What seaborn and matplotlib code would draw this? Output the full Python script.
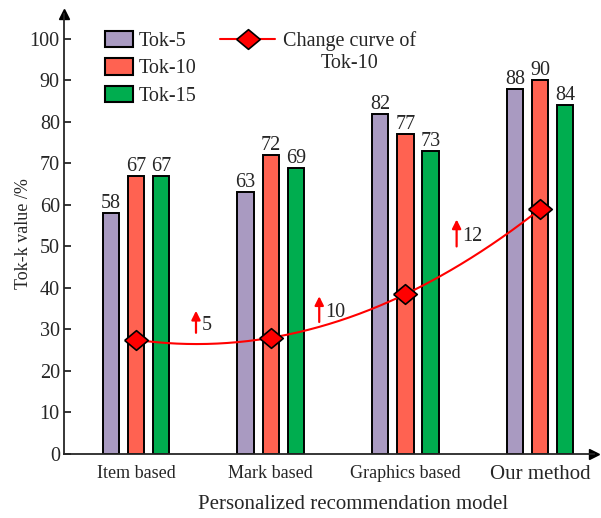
import matplotlib
matplotlib.use("Agg")
import matplotlib.pyplot as plt
import numpy as np
import pandas as pd
import seaborn as sns
from matplotlib.lines import Line2D
from matplotlib.patches import Patch
from matplotlib.text import Annotation

# values
models = ["Item based", "Mark based", "Graphics based", "Our method"]
series = ["Tok-5", "Tok-10", "Tok-15"]
tok5 = [58, 63, 82, 88]
tok10 = [67, 72, 77, 90]
tok15 = [67, 69, 73, 84]
change_curve = [27.5, 28.0, 38.5, 59.0]
gains = ["5", "10", "12"]
colors = ["#A99AC1", "#FF6251", "#00AD4F"]

frame = pd.DataFrame({
    "model": models * 3,
    "series": np.repeat(series, len(models)),
    "value": tok5 + tok10 + tok15,
})

sns.set_style("ticks")
plt.rcParams["font.family"] = ["Liberation Serif", "DejaVu Serif"]

fig = plt.figure(figsize=(6.01, 5.18), dpi=100)
ax = fig.add_axes([64 / 601, 64 / 518, 530 / 601, 440 / 518])

sns.barplot(data=frame, x="model", y="value", hue="series", hue_order=series,
            palette=colors, saturation=1, width=0.56, gap=0.35,
            edgecolor="black", linewidth=1.4, legend=False, ax=ax)

for container in ax.containers:
    ax.bar_label(container, fontsize=14.5, padding=0)

# smooth change curve through the Tok-10 points
xs = np.arange(len(models))
coef = np.polyfit(xs, change_curve, len(models) - 1)
xx = np.linspace(xs[0], xs[-1], 200)
ax.plot(xx, np.polyval(coef, xx), color="red", lw=1.5, zorder=4)
diamond = [(-1.2, 0), (0, 1), (1.2, 0), (0, -1), (-1.2, 0)]
ax.plot(xs, change_curve, linestyle="none", marker=diamond, ms=17,
        mfc="red", mec="black", mew=1.2, zorder=5)

# gain arrows between groups
arrow_spots = [(0.445, 29.2, 34.5), (1.36, 31.8, 38.0), (2.38, 50.0, 56.5)]
for (x, y0, y1), gain in zip(arrow_spots, gains):
    ax.annotate("", xy=(x, y1), xytext=(x, y0),
                arrowprops=dict(arrowstyle="-|>", color="red", lw=1.6,
                                mutation_scale=13, shrinkA=0, shrinkB=0))
    ax.text(x + 0.045, (y0 + y1) / 2 - 0.8, gain, fontsize=14.5, va="center", ha="left")

ax.set_xlim(-0.535, 3.40)
ax.set_ylim(0, 106)
ax.set_yticks(range(0, 101, 10))
sns.despine(ax=ax)
for side in ("left", "bottom"):
    ax.spines[side].set_linewidth(1.3)
ax.plot(1, 0, ">k", ms=7, transform=ax.transAxes, clip_on=False)
ax.plot(0, 1, "^k", ms=7, transform=ax.transAxes, clip_on=False)

ax.tick_params(axis="y", direction="in", length=5, width=1.3, labelsize=14.5, pad=3)
ax.tick_params(axis="x", length=0, labelsize=13, pad=8)
ax.get_xticklabels()[-1].set_fontsize(15)

ax.set_xlabel("Personalized recommendation model", fontsize=15)
ax.xaxis.set_label_coords((353 - 64) / 530, -0.093)
ax.set_ylabel("Tok-k value /%", fontsize=13)
ax.yaxis.set_label_coords(-0.060, 0.5)

bar_handles = [Patch(facecolor=c, edgecolor="black", lw=1.5) for c in colors]
leg1 = ax.legend(bar_handles, series, loc="upper left",
                 bbox_to_anchor=(105 / 601, 1 - 31 / 518), bbox_transform=fig.transFigure,
                 frameon=False, fontsize=14.5, borderpad=0, borderaxespad=0,
                 handlelength=1.4, handleheight=0.85, handletextpad=0.25,
                 labelspacing=0.37)
ax.add_artist(leg1)

line_handle = Line2D([], [], color="red", lw=1.5, marker=diamond, ms=17,
                     mfc="red", mec="black", mew=1.2)
leg2 = ax.legend([line_handle], ["Change curve of"], loc="upper left",
                 bbox_to_anchor=(220 / 601, 1 - 31 / 518), bbox_transform=fig.transFigure,
                 frameon=False, fontsize=14.5, borderpad=0, borderaxespad=0,
                 handlelength=2.75, handletextpad=0.4)
# second line of the curve label, centred under the first
fig.add_artist(Annotation("Tok-10", xy=(0.5, 0), xycoords=leg2.get_texts()[0],
                          xytext=(0, -2), textcoords="offset points",
                          ha="center", va="top", fontsize=14.5))

fig.savefig("out.png", dpi=100)
